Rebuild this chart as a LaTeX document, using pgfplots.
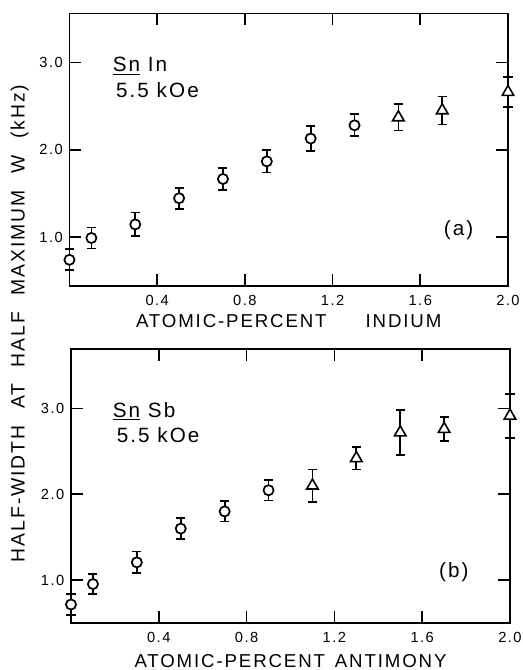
\documentclass[border=0pt]{standalone}
\usepackage{fontspec}
\setmainfont{Liberation Sans}
\newfontfamily\spaced[LetterSpace=10]{Liberation Sans}
\usepackage{pgfplots}
\usepackage{pgfplotstable}
\pgfplotsset{compat=1.18}

% (a) Sn-In: x, y, error
\pgfplotstableread{
x y e
0.0 0.74 0.12
0.1 0.99 0.12
0.3 1.145 0.135
0.5 1.445 0.12
0.7 1.665 0.13
0.9 1.867 0.127
1.1 2.128 0.14
1.3 2.28 0.125
}\inCirc
\pgfplotstableread{
x y e
1.5 2.37 0.15
1.7 2.45 0.16
2.0 2.66 0.17
}\inTri
% (b) Sn-Sb
\pgfplotstableread{
x y e
0.0 0.715 0.12
0.1 0.953 0.117
0.3 1.206 0.128
0.5 1.60 0.12
0.7 1.80 0.118
0.9 2.047 0.12
}\sbCirc
\pgfplotstableread{
x y e
1.1 2.10 0.19
1.3 2.42 0.13
1.5 2.72 0.26
1.7 2.76 0.14
2.0 2.915 0.255
}\sbTri

\pgfplotsset{
  panel/.style={
    scale only axis, anchor=north west, clip=false,
    xmin=0, xmax=2.0, xtick={0.4,0.8,1.2,1.6,2.0}, ytick={1,2,3},
    tick align=inside, major tick length=9pt,
    axis line style={line width=1.4pt},
    every tick/.style={line width=1.3pt, black},
    /pgf/number format/.cd, fixed, fixed zerofill, precision=1, assume math mode=true,
    /pgfplots/.cd,
    tick label style={font=\fontsize{11}{13}\spaced},
    xticklabel style={yshift=-3.5pt},
    yticklabel style={xshift=-1.5pt},
    xlabel style={at={(axis description cs:0.5,0)}, anchor=center, font=\fontsize{14}{16}\spaced},
  },
  circ/.style={only marks, mark=*, mark size=3.8pt, line width=1.3pt,
    mark options={fill=white, draw=black, line width=1.3pt},
    error bars/.cd, y dir=both, y explicit,
    error bar style={line width=1.3pt, black},
    error mark options={rotate=90, line width=1.3pt, mark size=3.4pt, black}},
  tri/.style={only marks, mark=triangle*, mark size=5pt, line width=1.3pt,
    mark options={fill=white, draw=black, line width=1.2pt},
    error bars/.cd, y dir=both, y explicit,
    error bar style={line width=1.3pt, black},
    error mark options={rotate=90, line width=1.3pt, mark size=3.4pt, black}},
}

\begin{document}
\begin{tikzpicture}
\path[use as bounding box] (0,0) rectangle (392.25pt,-502.5pt);

\begin{axis}[panel, at={(52.1pt,-10.1pt)}, width=328.9pt, height=204.4pt,
  ymin=0.44, ymax=3.56,
  xlabel={\makebox[229pt][s]{ATOMIC-PERCENT INDIUM}}, xlabel style={yshift=-26.6pt}]
  \addplot[circ] table[x=x, y=y, y error=e] {\inCirc};
  \addplot[tri] table[x=x, y=y, y error=e] {\inTri};
  \node[anchor=base west, font=\fontsize{15.5}{17}\spaced] at (axis cs:0.176,2.89) {\underline{Sn} In};
  \node[anchor=base west, font=\fontsize{15.5}{17}\spaced] at (axis cs:0.191,2.60) {5.5 kOe};
  \node[anchor=center, font=\fontsize{15.5}{17}\spaced] at (axis cs:1.775,1.077) {(a)};
\end{axis}

\begin{axis}[panel, at={(53.25pt,-262pt)}, width=329.25pt, height=205.5pt,
  ymin=0.495, ymax=3.69,
  xlabel={\makebox[234pt][s]{ATOMIC-PERCENT ANTIMONY}}, xlabel style={yshift=-28.3pt}]
  \addplot[circ] table[x=x, y=y, y error=e] {\sbCirc};
  \addplot[tri] table[x=x, y=y, y error=e] {\sbTri};
  \node[anchor=base west, font=\fontsize{15.5}{17}\spaced] at (axis cs:0.169,2.90) {\underline{Sn} Sb};
  \node[anchor=base west, font=\fontsize{15.5}{17}\spaced] at (axis cs:0.187,2.607) {5.5 kOe};
  \node[anchor=center, font=\fontsize{15.5}{17}\spaced] at (axis cs:1.744,1.093) {(b)};
\end{axis}

\node[rotate=90, font=\fontsize{14.5}{16}\spaced] at (14.8pt,-242.6pt)
  {\makebox[358pt][s]{HALF-WIDTH AT HALF MAXIMUM W (kHz)}};
\end{tikzpicture}
\end{document}
